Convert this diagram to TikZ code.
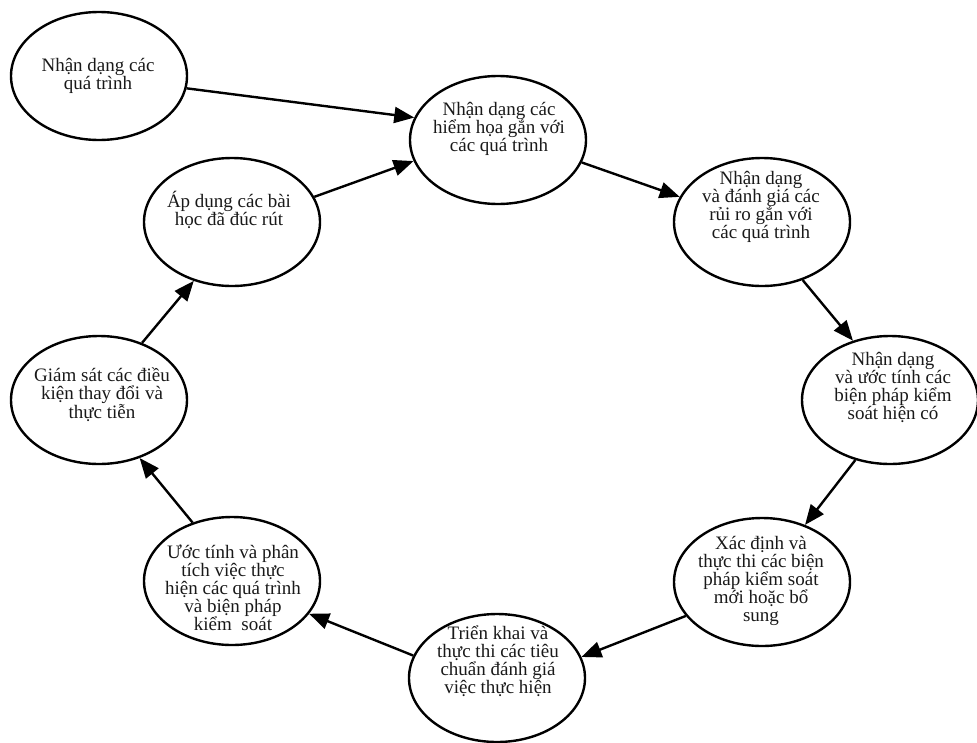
\documentclass[tikz,border=0pt]{standalone}
\usepackage{fontspec}
\setmainfont{Liberation Serif}
\usetikzlibrary{shapes.geometric,arrows.meta}
\begin{document}
\begin{tikzpicture}[x=1pt,y=-1pt,
  oval/.style={ellipse, draw=black, line width=2.4pt, minimum width=176pt, minimum height=128pt, inner sep=0pt},
  txt/.style={align=center, font=\fontsize{19}{18}\selectfont, inner sep=0pt, text=black!90},
  flow/.style={line width=2.4pt, -{Triangle[length=20pt,width=16pt]}}]
\useasboundingbox (0,0) rectangle (977,742);
% ellipses
\node[oval] (e1) at (99,76) {};
\node[oval] (e2) at (498,140) {};
\node[oval] (e3) at (762,222) {};
\node[oval] (e4) at (890,400) {};
\node[oval] (e5) at (762,582) {};
\node[oval] (e6) at (497,678) {};
\node[oval] (e7) at (232,581) {};
\node[oval] (e8) at (99,400) {};
\node[oval] (e9) at (232,222) {};
% texts
\node[txt] (t1) at (98,76) {Nhận dạng các\\quá trình};
\node[txt] (t2) at (499,129) {Nhận dạng các\\hiểm họa gắn với\\các quá trình};
\node[txt] (t3) at (761,207) {Nhận dạng\\và đánh giá các\\rủi ro gắn với\\các quá trình};
\node[txt] (t4) at (893,387) {Nhận dạng\\và ước tính các\\biện pháp kiểm\\soát hiện có};
\node[txt] (t5) at (761,581) {Xác định và\\thực thi các biện\\pháp kiểm soát\\mới hoặc bổ\\sung};
\node[txt] (t6) at (498,661) {Triển khai và\\thực thi các tiêu\\chuẩn đánh giá\\việc thực hiện};
\node[txt] (t7) at (233,588) {Ước tính và phân\\tích việc thực\\hiện các quá trình\\và biện pháp\\kiểm\ \ soát};
\node[txt] (t8) at (102,395) {Giám sát các điều\\kiện thay đổi và\\thực tiễn};
\node[txt] (t9) at (229,210) {Áp dụng các bài\\học đã đúc rút};
% arrows
\draw[flow] (e1.-8) -- (e2.165);
\draw[flow] (e9.17) -- (e2.-166);
\draw[flow] (e2.-15) -- (e3.163);
\draw[flow] (e3.-55) -- (e4.122);
\draw[flow] (e4.-120) -- (e5.53);
\draw[flow] (e5.204) -- (e6.14);
\draw[flow] (e6.165) -- (e7.-23);
\draw[flow] (e7.124) -- (e8.-55);
\draw[flow] (e8.53) -- (e9.-123);
\end{tikzpicture}
\end{document}
